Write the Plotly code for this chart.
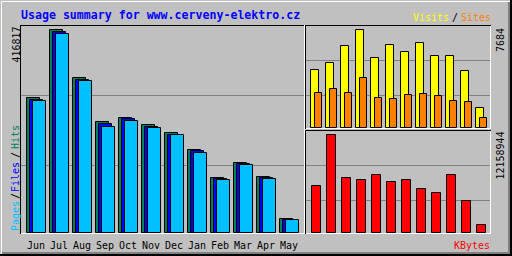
import plotly.graph_objects as go

# ---- data ----
months = ["Jun", "Jul", "Aug", "Sep", "Oct", "Nov", "Dec", "Jan", "Feb", "Mar", "Apr", "May"]
hits = [277190, 416817, 318260, 227910, 236130, 221750, 205330, 170420, 112930, 143730, 114980, 28750]
files = [273090, 412710, 314150, 223810, 234070, 217650, 201220, 168370, 110880, 141680, 112930, 26690]
pages = [271030, 408600, 312100, 217650, 229970, 215590, 201220, 164260, 108820, 139620, 110880, 26690]
visits = [4548, 5097, 6429, 7684, 5489, 6508, 5959, 6665, 5645, 5645, 4469, 1568]
sites = [2744, 3058, 2744, 3920, 2352, 2274, 2587, 2666, 2509, 2117, 2039, 784]
kbytes = [5831000, 12158944, 6824000, 6576000, 7196000, 6328000, 6576000, 5459000, 4963000, 7196000, 3970000, 993000]

title = "Usage summary for www.cerveny-elektro.cz"

W, H = 512, 256
GREY, DKGREY = "#C0C0C0", "#808080"
C_HITS, C_FILES, C_PAGES = "#00805C", "#0000FF", "#00C0FF"
C_VISITS, C_SITES, C_KB = "#FFFF00", "#FF8000", "#FF0000"
MONO = "DejaVu Sans Mono"


def fx(px):
    return px / W


def fy(py):
    return 1 - py / H


max_main = max(hits)
max_vis = max(visits)
max_kb = max(kbytes)

fig = go.Figure()
line = dict(color="black", width=1)

# main panel: group pitch 23px, bars 13px wide, 3px stagger
for vals, col, off in ((hits, C_HITS, -9), (files, C_FILES, -6), (pages, C_PAGES, -3)):
    fig.add_trace(go.Bar(x=months, y=vals, xaxis="x", yaxis="y", offset=off / 23, width=13 / 23,
                         marker=dict(color=col, line=line), hoverinfo="skip"))
# visits / sites panel: pitch 15px
fig.add_trace(go.Bar(x=months, y=visits, xaxis="x2", yaxis="y2", offset=-5 / 15, width=8 / 15,
                     marker=dict(color=C_VISITS, line=line), hoverinfo="skip"))
fig.add_trace(go.Bar(x=months, y=sites, xaxis="x2", yaxis="y2", offset=-1 / 15, width=7 / 15,
                     marker=dict(color=C_SITES, line=line), hoverinfo="skip"))
# kbytes panel
fig.add_trace(go.Bar(x=months, y=kbytes, xaxis="x3", yaxis="y3", offset=-4 / 15, width=9 / 15,
                     marker=dict(color=C_KB, line=line), hoverinfo="skip"))

ax_common = dict(showline=False, zeroline=False, ticks="", showticklabels=False, fixedrange=True)
grid = dict(showgrid=True, gridcolor=DKGREY, gridwidth=1)

layout = dict(
    width=W, height=H, margin=dict(l=0, r=0, t=0, b=0),
    paper_bgcolor=GREY, plot_bgcolor=GREY, showlegend=False,
    barmode="overlay", bargap=0, bargroupgap=0,
    xaxis=dict(domain=[fx(21), fx(304)], range=[(21 - 36) / 23, (304 - 36) / 23],
               type="category", showgrid=False, anchor="y", **ax_common),
    yaxis=dict(domain=[fy(233), fy(26)], range=[0, max_main * 207 / 203], anchor="x",
               tickvals=[max_main * 67.5 / 203, max_main * 137.5 / 203], **grid, **ax_common),
    xaxis2=dict(domain=[fx(306), fx(490)], range=[(306 - 316) / 15, (490 - 316) / 15],
                type="category", showgrid=False, anchor="y2", **ax_common),
    yaxis2=dict(domain=[fy(128), fy(26)], range=[0, max_vis * 102 / 98], anchor="x2",
                tickvals=[max_vis * 32.5 / 98, max_vis * 67.5 / 98], **grid, **ax_common),
    xaxis3=dict(domain=[fx(306), fx(490)], range=[(306 - 316) / 15, (490 - 316) / 15],
                type="category", showgrid=False, anchor="y3", **ax_common),
    yaxis3=dict(domain=[fy(233), fy(131)], range=[0, max_kb * 102 / 98], anchor="x3",
                tickvals=[max_kb * 32.5 / 98, max_kb * 67.5 / 98], **grid, **ax_common),
)

shapes = []


def rect(c0, r0, c1, r1, color):
    shapes.append(dict(type="rect", xref="paper", yref="paper", x0=fx(c0), x1=fx(c1 + 1),
                       y0=fy(r1 + 1), y1=fy(r0), fillcolor=color, line=dict(width=0), layer="above"))


# outer bevel
rect(1, 1, 509, 1, "white")
rect(1, 1, 1, 253, "white")
rect(508, 2, 509, 253, DKGREY)
rect(2, 252, 509, 253, DKGREY)
rect(510, 0, 511, 255, "black")
rect(0, 254, 511, 255, "black")
# main panel (inset)
rect(20, 25, 303, 25, "black")
rect(20, 25, 20, 233, "black")
rect(21, 233, 304, 233, "white")
rect(304, 25, 304, 233, "white")
# visits panel
rect(305, 25, 490, 25, "black")
rect(305, 25, 305, 128, "black")
rect(306, 128, 490, 128, "white")
rect(490, 26, 490, 128, "white")
# kbytes panel
rect(305, 130, 490, 130, "black")
rect(305, 130, 305, 233, "black")
rect(306, 233, 490, 233, "white")
rect(490, 131, 490, 233, "white")

annotations = []


def txt(s, px, py, color, size=10, angle=0, xanchor="center", bold=False, xref="paper", xval=None):
    annotations.append(dict(
        text=s, x=fx(px) if xval is None else xval, y=fy(py), xref=xref, yref="paper",
        xanchor=xanchor, yanchor="middle", showarrow=False, textangle=angle, borderpad=0,
        font=dict(family=MONO, size=size, color=color, weight="bold" if bold else "normal")))


txt(title, 20, 15, "#0000FF", size=11.6, xanchor="left", bold=True)
txt("Visits", 412, 17, C_VISITS, xanchor="left")
txt("/", 451, 17, "black", xanchor="left")
txt("Sites", 460, 17, C_SITES, xanchor="left")

txt("Pages", 15, 216, C_PAGES, angle=-90)
txt("/", 15, 196, "black", angle=-90)
txt("Files", 15, 177, C_FILES, angle=-90)
txt("/", 15, 155, "black", angle=-90)
txt("Hits", 15, 137, C_HITS, angle=-90)

txt(str(max_main), 15.5, 45, "black", angle=-90)
txt(str(max_vis), 500, 40, "black", angle=-90)
txt(str(max_kb), 500, 155.5, "black", angle=-90)
txt("KBytes", 472, 245, C_KB)

for m in months:
    txt(m, 0, 245, "black", xref="x", xval=m)

layout["shapes"] = shapes
layout["annotations"] = annotations
fig.update_layout(**layout)
fig.write_html("out.html", config={"displayModeBar": False, "staticPlot": False})
